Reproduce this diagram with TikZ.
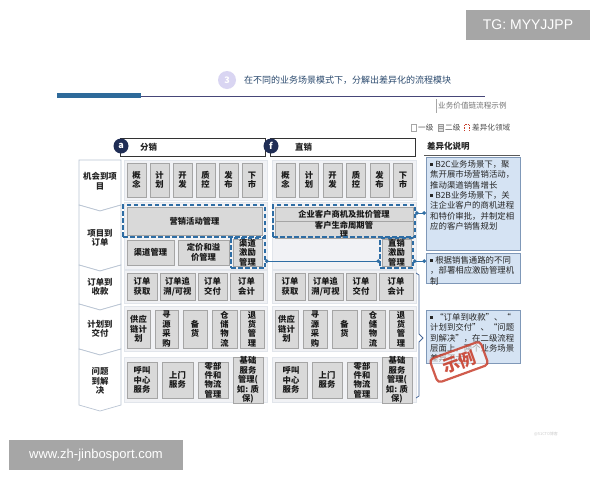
\documentclass[tikz,border=0pt]{standalone}
\usepackage{fontspec}
\setmainfont{Noto Sans CJK SC}
\newfontfamily\wmfont{Liberation Sans}
\usetikzlibrary{calc,arrows.meta}
\definecolor{boxfill}{HTML}{D9D9D9}
\definecolor{boxline}{HTML}{A5A5A5}
\definecolor{dblue}{HTML}{2E6DA4}
\definecolor{navy}{HTML}{1F2D55}
\definecolor{descfill}{HTML}{D5E3F3}
\definecolor{descline}{HTML}{7F98B8}
\definecolor{panel}{HTML}{F1F2F5}
\definecolor{panelline}{HTML}{E1E5EB}
\definecolor{chev}{HTML}{B9C4D3}
\definecolor{titlec}{HTML}{2B4A6E}
\definecolor{stampc}{HTML}{C8402E}
\definecolor{wmgray}{HTML}{A6A6A6}
\definecolor{barblue}{HTML}{2E6A9A}
\definecolor{ruleline}{HTML}{464678}
\definecolor{bracec}{HTML}{4A6A9A}
\definecolor{numc}{HTML}{D9D5F2}
\newcommand\bx[6]{\node[gbox, minimum width={(#4-#2)*1pt}, minimum height={(#5-#3)*1pt}] (#1) at ({(#2+#4)/2},{(#3+#5)/2}) {#6};}
\newcommand\rg[5]{\node[rgn, minimum width={(#4-#2)*1pt}, minimum height={(#5-#3)*1pt}] (#1) at ({(#2+#4)/2},{(#3+#5)/2}) {};}
\newcommand\bul{\rule[1.5pt]{2.6pt}{2.6pt}\hspace{2.5pt}}
\tikzset{
  gbox/.style={draw=boxline, fill=boxfill, line width=0.6pt, inner sep=0pt, outer sep=0pt, align=center,
    text=black!90, font=\bfseries\fontsize{8.3}{9.4}\selectfont},
  rgn/.style={draw=panelline, fill=panel, line width=0.5pt, inner sep=0pt, outer sep=0pt},
  dbox/.style={draw=dblue, line width=1.3pt, dash pattern=on 4.5pt off 2.5pt, inner sep=0pt, outer sep=0pt},
  conn/.style={draw=dblue, line width=1pt, {Circle[length=3.6pt]}-{Circle[length=3.6pt]}},
  desc/.style={draw=descline, fill=descfill, line width=0.8pt, inner sep=0pt, outer sep=0pt},
  desctext/.style={anchor=north west, align=left, inner sep=0pt, text=black!85, font=\fontsize{8.4}{10.4}\selectfont},
  chevlab/.style={align=center, inner sep=0pt, text=black!85, font=\bfseries\fontsize{8.4}{9.6}\selectfont},
  chevron/.style={draw=chev, fill=white, line width=0.7pt},
  hdr/.style={draw=black!80, fill=white, line width=0.7pt, inner sep=0pt, outer sep=0pt},
  hcirc/.style={circle, fill=navy, text=white, inner sep=0pt, minimum size=15pt, font=\bfseries\fontsize{9}{9}\selectfont},
  legtxt/.style={anchor=west, inner sep=0pt, text=black!70, font=\fontsize{7.6}{8}\selectfont},
}
\begin{document}
\begin{tikzpicture}[x=1pt,y=-1pt]
\useasboundingbox (0,0) rectangle (600,480);
\fill[white] (0,0) rectangle (600,480);

% watermarks
\node[fill=wmgray, text=white, minimum width=124pt, minimum height=30pt, inner sep=0pt, font=\wmfont\fontsize{14}{14}\selectfont] (wm1) at (528,25) {TG: MYYJJPP};
\node[fill=wmgray, text=white, minimum width=174pt, minimum height=30pt, inner sep=0pt, font=\wmfont\fontsize{13}{13}\selectfont] (wm2) at (96,455) {www.zh-jinbosport.com};
\node[text=black!20, inner sep=0pt, font=\fontsize{4}{4}\selectfont] (wm3) at (546,434) {@51CTO博客};

% title
\node[circle, fill=numc, text=white, minimum size=18pt, inner sep=0pt, font=\bfseries\fontsize{9}{9}\selectfont] (num) at (227,80) {3};
\node[anchor=west, inner sep=0pt, text=titlec, font=\fontsize{9}{10}\selectfont] (title) at (244,80) {在不同的业务场景模式下，分解出差异化的流程模块};
\fill[barblue] (57,92.5) rectangle (141,97.5);
\draw[ruleline, line width=1pt] (141,96) -- (485,96);

\node[anchor=west, inner sep=0pt, text=black!55, font=\fontsize{7.6}{8}\selectfont] (sub) at (438,106) {业务价值链流程示例};
\draw[black!35, line width=0.6pt] (436,99) -- (436,113);

% legend
\node[draw=black!35, fill=white, minimum width=5.5pt, minimum height=6.5pt, inner sep=0pt] (lg1) at (413.5,127.5) {};
\node[legtxt] (lgt1) at (418,127.5) {一级};
\node[draw=black!40, fill=black!12, minimum width=5.5pt, minimum height=6.5pt, inner sep=0pt] (lg2) at (440.5,127.5) {};
\draw[black!40, line width=0.4pt] (438.5,126.5) -- (442.5,126.5) (438.5,128.5) -- (442.5,128.5);
\node[legtxt] (lgt2) at (445,127.5) {二级};
\draw[stampc, line width=0.9pt, dash pattern=on 1.5pt off 1pt] (464.5,131) -- (464.5,124) -- (469.5,124) -- (469.5,131);
\node[legtxt] (lgt3) at (472,127.5) {差异化领域};

% headers
\node[hdr, minimum width=145pt, minimum height=18pt] (h1) at (192.5,147) {};
\node[hcirc] (ca) at (121,146) {a};
\node[anchor=west, inner sep=0pt, font=\bfseries\fontsize{8.5}{9}\selectfont, text=black!85] (ht1) at (140,147) {分销};
\node[hdr, minimum width=145pt, minimum height=18pt] (h2) at (342.5,147) {};
\node[hcirc] (cf) at (271,146) {f};
\node[anchor=west, inner sep=0pt, font=\bfseries\fontsize{8.5}{9}\selectfont, text=black!85] (ht2) at (295,147) {直销};

\node[anchor=west, inner sep=0pt, font=\bfseries\fontsize{8.5}{9}\selectfont, text=black!85] (dtitle) at (427,146) {差异化说明};
\draw[black!65, line width=0.8pt] (424,155.5) -- (520,155.5);

% chevrons
\draw[chevron] (79,160) -- (121,160) -- (121,205) -- (100,211) -- (79,205) -- cycle;
\draw[chevron] (79,205) -- (100,211) -- (121,205) -- (121,265) -- (100,271) -- (79,265) -- cycle;
\draw[chevron] (79,265) -- (100,271) -- (121,265) -- (121,304) -- (100,310) -- (79,304) -- cycle;
\draw[chevron] (79,304) -- (100,310) -- (121,304) -- (121,349) -- (100,355) -- (79,349) -- cycle;
\draw[chevron] (79,349) -- (100,355) -- (121,349) -- (121,405) -- (100,411) -- (79,405) -- cycle;
\node[chevlab] (l1) at (100,181) {机会到项\\目};
\node[chevlab] (l2) at (100,238) {项目到\\订单};
\node[chevlab] (l3) at (100,287) {订单到\\收款};
\node[chevlab] (l4) at (100,329) {计划到\\交付};
\node[chevlab] (l5) at (100,381) {问题\\到解\\决};

% row panels
\rg{pa1}{124}{160}{267}{200}
\rg{pa2}{124}{202}{267}{269}
\rg{pa3}{124}{270}{267}{303}
\rg{pa4}{124}{306}{267}{351}
\rg{pa5}{124}{357}{267}{402}
\rg{pb1}{272}{160}{416}{200}
\rg{pb2}{272}{202}{416}{269}
\rg{pb3}{272}{270}{416}{303}
\rg{pb4}{272}{306}{416}{351}
\rg{pb5}{272}{357}{416}{402}

% row 1
\bx{a11}{127}{163}{146}{197}{概\\念}
\bx{a12}{150}{163}{169}{197}{计\\划}
\bx{a13}{173}{163}{192}{197}{开\\发}
\bx{a14}{196}{163}{215}{197}{质\\控}
\bx{a15}{219}{163}{238}{197}{发\\布}
\bx{a16}{242}{163}{262}{197}{下\\市}
\bx{b11}{276}{163}{295}{197}{概\\念}
\bx{b12}{299.5}{163}{318.5}{197}{计\\划}
\bx{b13}{323}{163}{342}{197}{开\\发}
\bx{b14}{346.5}{163}{365.5}{197}{质\\控}
\bx{b15}{370}{163}{389}{197}{发\\布}
\bx{b16}{393.5}{163}{412.5}{197}{下\\市}

% row 2
\bx{a21}{127}{207}{262}{235}{营销活动管理}
\bx{a22}{127}{240}{174}{265}{渠道管理}
\bx{a23}{178}{240}{229}{265}{定价和溢\\价管理}
\bx{a24}{233}{240}{262}{265}{渠道\\激励\\管理}
\bx{b21}{275}{207}{413}{222}{企业客户商机及批价管理}
\bx{b22}{275}{223}{413}{236}{客户生命周期管\\理}
\bx{b23}{382}{240}{411}{265}{直销\\激励\\管理}
\node[dbox, minimum width=142pt, minimum height=32pt] (dA) at (194,221) {};
\node[dbox, minimum width=34pt, minimum height=30pt] (qdj) at (248,253) {};
\node[dbox, minimum width=142pt, minimum height=32pt] (dz) at (344,221) {};
\node[dbox, minimum width=33pt, minimum height=30pt] (zxj) at (396.5,253) {};

% row 3
\bx{a31}{127}{273}{157}{300}{订单\\获取}
\bx{a32}{160}{273}{195}{300}{订单追\\溯/可视}
\bx{a33}{198}{273}{227}{300}{订单\\交付}
\bx{a34}{230}{273}{263}{300}{订单\\会计}
\bx{b31}{275}{273}{305}{300}{订单\\获取}
\bx{b32}{308}{273}{343}{300}{订单追\\溯/可视}
\bx{b33}{346}{273}{376}{300}{订单\\交付}
\bx{b34}{379}{273}{413}{300}{订单\\会计}

% row 4
\bx{a41}{127}{310}{150}{348}{供应\\链计\\划}
\bx{a42}{155}{310}{178}{348}{寻\\源\\采\\购}
\bx{a43}{183}{310}{207}{348}{备\\货}
\bx{a44}{212}{310}{237}{348}{仓\\储\\物\\流}
\bx{a45}{240}{310}{264}{348}{退\\货\\管\\理}
\bx{b41}{275}{310}{298}{348}{供应\\链计\\划}
\bx{b42}{303}{310}{327}{348}{寻\\源\\采\\购}
\bx{b43}{332}{310}{357}{348}{备\\货}
\bx{b44}{361}{310}{385}{348}{仓\\储\\物\\流}
\bx{b45}{389}{310}{413}{348}{退\\货\\管\\理}

% row 5
\bx{a51}{127}{362}{157}{398}{呼叫\\中心\\服务}
\bx{a52}{162}{362}{193}{398}{上门\\服务}
\bx{a53}{198}{362}{228}{398}{零部\\件和\\物流\\管理}
\bx{a54}{233}{362}{263}{398}{基础\\服务\\管理(\\如: 质\\保)}
\bx{b51}{275}{362}{307}{398}{呼叫\\中心\\服务}
\bx{b52}{312}{362}{342}{398}{上门\\服务}
\bx{b53}{347}{362}{377}{398}{零部\\件和\\物流\\管理}
\bx{b54}{382}{362}{412}{398}{基础\\服务\\管理(\\如: 质\\保)}

% description boxes
\node[desc, minimum width=94pt, minimum height=93pt] (d1) at (473,203.5) {};
\node[desctext] (d1t) at (430,160) {\bul B2C业务场景下，聚\\焦开展市场营销活动，\\推动渠道销售增长\\\bul B2B业务场景下，关\\注企业客户的商机进程\\和特价审批，并制定相\\应的客户销售规划};
\node[desc, minimum width=94pt, minimum height=30pt] (d2) at (473,268) {};
\node[desctext] (d2t) at (430,256) {\bul 根据销售通路的不同\\，部署相应激励管理机\\制};
\node[desc, minimum width=94pt, minimum height=53pt] (d3) at (473,336.5) {};
\node[desctext] (d3t) at (430,313) {\bul “订单到收款”、“\\计划到交付”、“问题\\到解决”，在二级流程\\层面上，两个业务场景\\差异不大};

% connectors
\coordinate (c1s) at ($(dz.north east)!0.25!(dz.south east)$);
\draw[conn] (c1s) -- (c1s -| d1.west);
\coordinate (c2s) at ($(qdj.north east)!0.77!(qdj.south east)$);
\draw[conn] (c2s) -- (c2s -| zxj.west);
\coordinate (c3s) at ($(zxj.north east)!0.77!(zxj.south east)$);
\draw[conn] (c3s) -- (c3s -| d2.west);

% brace
\draw[bracec, line width=0.8pt] (416,273) -- (419,275) -- (419,334) -- (423,338) -- (419,342) -- (419,396) -- (416,398);

% stamp
\node[rotate=20, draw=stampc, line width=2.2pt, rounded corners=4pt, fill=white, fill opacity=0.55, text opacity=0.9, draw opacity=0.85, text=stampc, minimum width=54pt, minimum height=25pt, inner sep=0pt, font=\bfseries\fontsize{17}{17}\selectfont] (stamp) at (459,362) {示例};
\end{tikzpicture}
\end{document}
